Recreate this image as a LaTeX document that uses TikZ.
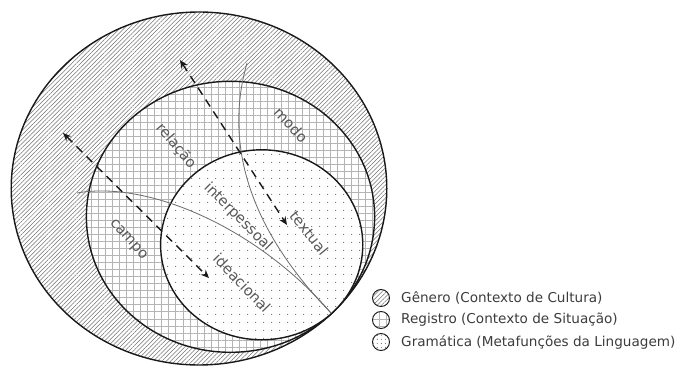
\documentclass[tikz,border=0pt]{standalone}
\usepackage{fontspec}
\setmainfont{DejaVu Sans}
\usetikzlibrary{patterns.meta, arrows.meta}
\definecolor{mydark}{RGB}{25,25,25}
\definecolor{mygray}{RGB}{90,90,90}
\definecolor{txtgray}{RGB}{60,60,60}
\definecolor{hatchgray}{RGB}{115,115,115}
\definecolor{gridgray}{RGB}{180,180,180}
\definecolor{dotgray}{RGB}{110,110,110}
\definecolor{curvegray}{RGB}{110,110,110}
\tikzset{
  ring/.style={draw=mydark, line width=1.2pt},
  genero/.style={ring, preaction={fill=white},
    pattern={Lines[angle=45,distance=2.6pt,line width=0.45pt]},
    pattern color=hatchgray},
  registro/.style={ring, preaction={fill=white},
    pattern={Hatch[angle=0,distance=6pt,line width=0.45pt]},
    pattern color=gridgray},
  gramatica/.style={ring, preaction={fill=white},
    pattern={Dots[distance=6.5pt,radius=0.55pt]},
    pattern color=dotgray},
  thincurve/.style={curvegray, line width=0.7pt},
  dasharrow/.style={{Stealth[length=7pt,width=6pt]}-{Stealth[length=7pt,width=6pt]},
    line width=1.2pt, color=mydark, dash pattern=on 7pt off 5pt},
  meta/.style={font=\fontsize{12.5}{14}\selectfont, text=mygray, inner sep=0pt},
  legtext/.style={font=\fontsize{11.6}{13}\selectfont, text=txtgray, anchor=west, inner sep=0pt},
  legring/.style={line width=0.8pt, draw=mydark}
}

\begin{document}
\begin{tikzpicture}[x=0.03cm, y=-0.03cm]
  \useasboundingbox (0,0) rectangle (686,368);
  % Contexto de cultura
  \draw[genero] (199,188.5) ellipse [x radius=187.8, y radius=176.5];
  % Contexto de situacao
  \draw[registro] (230.5,216.8) ellipse [x radius=144.1, y radius=135.5];
  % Metafuncoes
  \draw[gramatica] (261.7,244.8) ellipse [x radius=101.1, y radius=95];
  % curves
  \coordinate (vtop) at (247,63);
  \coordinate (hleft) at (77,193);
  \coordinate (meet) at (331,313);
  \draw[thincurve] (vtop) .. controls (222,150) and (255,235) .. (meet);
  \draw[thincurve] (hleft) .. controls (150,180) and (260,230) .. (meet);
  % arrows
  \coordinate (atop) at (180,60);
  \coordinate (abot) at (287,225);
  \coordinate (btop) at (63,133);
  \coordinate (bbot) at (209,278);
  \draw[dasharrow] (atop) -- (abot);
  \draw[dasharrow] (btop) -- (bbot);
  % labels
  \node[meta, rotate=-50] (relacao) at (176,146) {relação};
  \node[meta, rotate=-47] (modo) at (291,125) {modo};
  \node[meta, rotate=-48] (campo) at (128,240) {campo};
  \node[meta, rotate=-51] (textual) at (309,233) {textual};
  \node[meta, rotate=-46] (ideacional) at (242,283) {ideacional};
  \node[meta, rotate=-45] (interpessoal) at (238,217) {interpessoal};
  % legend
  \draw[genero, legring] (381,298) circle [radius=8.5];
  \draw[registro, legring] (381,320) circle [radius=8.5];
  \draw[gramatica, legring, pattern={Dots[distance=3.5pt,radius=0.5pt]}] (381,342) circle [radius=8.5];
  \node[legtext] (leggen) at (401,298) {Gênero (Contexto de Cultura)};
  \node[legtext] (legreg) at (401,320) {Registro (Contexto de Situação)};
  \node[legtext] (leggra) at (401,342) {Gramática (Metafunções da Linguagem)};
\end{tikzpicture}
\end{document}
